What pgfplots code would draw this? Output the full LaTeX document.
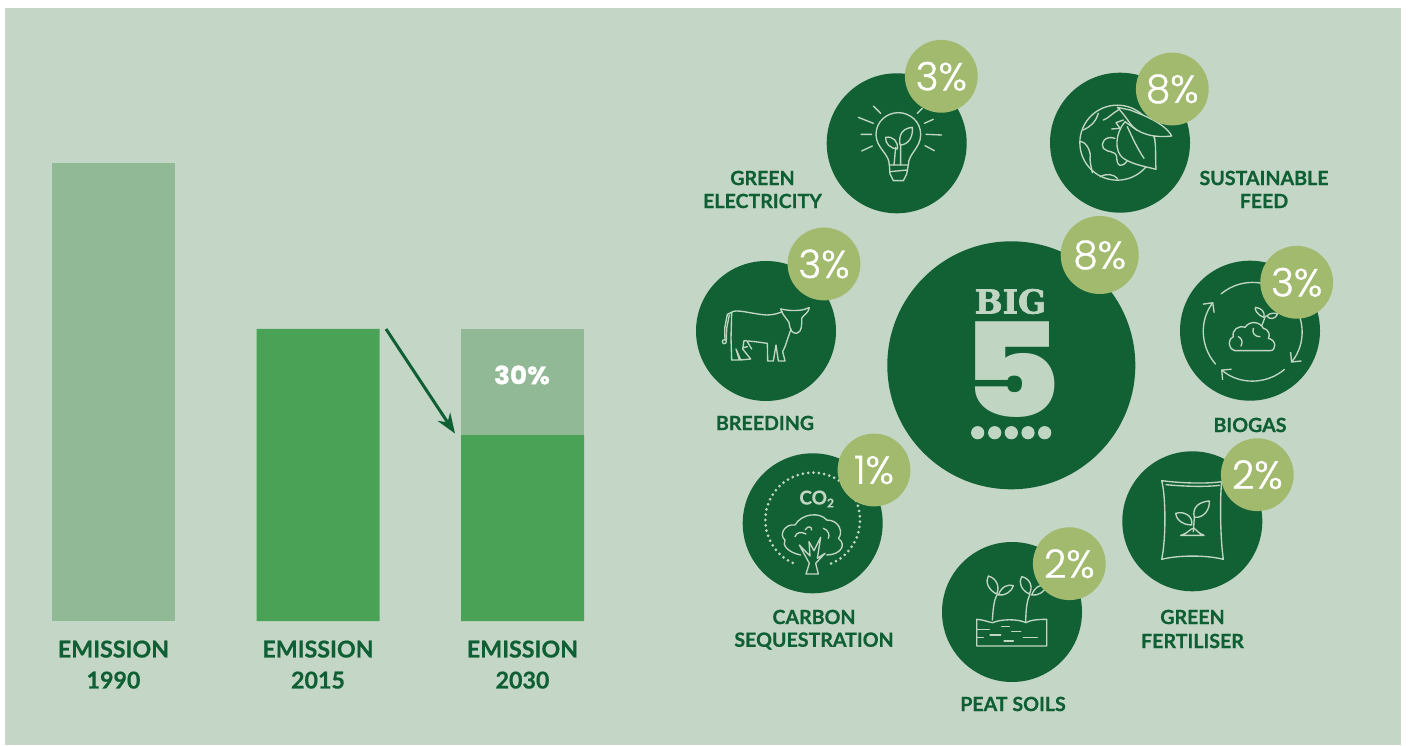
\documentclass[border=0pt]{standalone}
\usepackage{fontspec}
\usepackage{pgfplots}
\pgfplotsset{compat=1.18}
\usetikzlibrary{arrows.meta}
\setmainfont{Lato}[BoldFeatures={FakeBold=0.6}]
\newfontfamily\pop{Poppins Light}[FakeBold=1]
\newfontfamily\popb{Poppins Black}
\newfontfamily\popw{Poppins Bold}[FakeStretch=1.05,FakeBold=1]
\newfontfamily\bigf{DejaVu Serif}[UprightFont=* Bold,FakeBold=2]
\definecolor{bg}{HTML}{C4D6C5}
\definecolor{barlight}{HTML}{92B995}
\definecolor{barmid}{HTML}{4AA257}
\definecolor{dark}{HTML}{126135}
\definecolor{badge}{HTML}{A2BA6E}
\definecolor{txt}{HTML}{0E5F33}
\definecolor{ico}{HTML}{C0D6C3}
\tikzset{
  px/.style={shift={(0pt,745pt)},x=1pt,y=-1pt},
  zoomed/.style 2 args={shift={(#1pt,{(745-#2)*1pt})},x=0.33333pt,y=-0.33333pt},
  icon/.style={draw=ico,line width=1.35pt,line join=round,line cap=round}
}
\newcommand{\lab}[3]{\node[text=txt,font=\bfseries\fontsize{19.6}{22}\selectfont,inner sep=0pt,anchor=center] at (#1,#2) {#3};}
\newcommand{\disc}[3]{\fill[dark] (#1,#2) circle[radius=#3pt];}
\newcommand{\bdg}[4]{\fill[badge] (#1,#2) circle[radius=#3pt];
  \node[text=white,font=\pop\fontsize{39}{39}\selectfont,inner sep=0pt,anchor=center] at (#1,#2) {#4};}
\begin{document}
\begin{tikzpicture}
\fill[white,use as bounding box] (0pt,0pt) rectangle (1408pt,745pt);
\fill[bg] (5pt,0pt) rectangle (1401pt,737pt);
\begin{axis}[
  at={(0pt,124pt)},anchor=south west,scale only axis,
  width=600pt,height=458pt,
  xmin=-0.555,xmax=2.379,ymin=0,ymax=100,clip=false,
  ybar stacked,bar width=123pt,
  axis line style={draw=none},tick style={draw=none},
  ytick=\empty,xtick={0,1,2},
  xticklabels={EMISSION\\1990,EMISSION\\2015,EMISSION\\2030},
  xticklabel style={align=center,text=txt,yshift=-16pt,
    font=\bfseries\fontsize{23.2}{31}\selectfont},
]
\addplot[fill=barlight,draw=none] coordinates {(0,100) (1,0) (2,0)};
\addplot[fill=barmid,draw=none] coordinates {(0,0) (1,63.76) (2,40.6)};
\addplot[fill=barlight,draw=none] coordinates {(0,0) (1,0) (2,23.16)};
\end{axis}
\begin{scope}[px]
\node[text=white,font=\popw\fontsize{25}{25}\selectfont,inner sep=0pt] at (522,375) {30\%};
\draw[draw=txt,line width=3pt,-{Stealth[length=20pt,width=15pt]}] (386,329) -- (455,433.5);
\disc{896.7}{143.3}{70}
\disc{1120}{142.7}{70}
\disc{766}{331}{70}
\disc{812.7}{523.3}{70}
\disc{1250}{330.7}{70}
\disc{1192.3}{521.3}{70}
\disc{1012}{612}{70}
\disc{1011.3}{365.3}{124}
\end{scope}
% bulb
\begin{scope}[zoomed={690}{30}]
\draw[icon] (598,405) .. controls (598,370) and (558,355) .. (558,313) .. controls (558,275) and (590,248) .. (625,248) .. controls (660,248) and (692,275) .. (692,313) .. controls (692,355) and (655,370) .. (655,405) -- cycle;
\draw[icon] (598,405)--(600,432)--(610,452)--(640,452)--(650,432)--(655,405);
\draw[icon] (600,425)--(652,420);
\draw[icon] (612,405)--(617,352) (632,405)--(632,345);
\draw[icon] (630,345) .. controls (625,310) and (640,295) .. (667,292) .. controls (670,320) and (655,345) .. (630,345);
\draw[icon] (622,357) .. controls (600,355) and (585,340) .. (587,322) .. controls (610,318) and (625,335) .. (622,357);
\draw[icon] (550,228)--(572,250) (505,262)--(550,280) (513,313)--(545,313) (515,363)--(547,348) (682,250)--(697,235) (703,280)--(730,268) (708,313)--(755,315) (705,347)--(733,362);
\end{scope}
% globe with leaves
\begin{scope}[zoomed={1040}{30}]
\draw[icon] (232,338) circle[radius=37.5pt];
\draw[icon] (130,300) .. controls (150,290) and (165,280) .. (175,250);
\draw[icon] (122,335) .. controls (140,335) and (155,370) .. (150,385) .. controls (150,400) and (155,415) .. (157,428);
\draw[icon] (190,270) .. controls (205,265) and (210,255) .. (235,240);
\draw[icon] (215,297)--(240,295)--(228,278)--(250,270);
\draw[icon] (225,325) .. controls (195,315) and (180,340) .. (190,355) .. controls (205,370) and (225,360) .. (230,380) .. controls (230,410) and (245,415) .. (262,392);
\draw[icon] (180,440) .. controls (200,430) and (220,432) .. (232,445);
\path[icon,fill=dark] (255,275) .. controls (225,310) and (222,365) .. (250,385) .. controls (280,405) and (320,410) .. (348,418) .. controls (345,370) and (350,340) .. (340,315) -- (290,300) -- cycle;
\path[icon,fill=dark] (232,232) -- (270,240) .. controls (310,255) and (375,280) .. (395,318) .. controls (340,325) and (290,310) .. (270,280) .. controls (260,265) and (245,245) .. (232,232) -- cycle;
\draw[icon] (262,290) .. controls (280,330) and (295,360) .. (312,385);
\end{scope}
% cow
\begin{scope}[zoomed={690}{225}]
\draw[icon] (125,262) .. controls (135,250) and (190,268) .. (230,270) .. controls (250,270) and (265,265) .. (277,260);
\draw[icon] (272,252) .. controls (290,255) and (300,258) .. (325,256) .. controls (340,256) and (350,250) .. (358,248) .. controls (355,265) and (340,270) .. (335,280) .. controls (335,300) and (337,320) .. (320,325) .. controls (305,325) and (300,315) .. (297,292) .. controls (285,275) and (275,265) .. (272,252) -- cycle;
\draw[icon] (303,312)--(285,365)--(278,380)--(285,408)--(265,408)--(258,360)--(250,408)--(233,408)--(232,355)--(195,350)--(162,347)--(158,372)--(182,402)--(152,405)--(138,372)--(148,405)--(125,405)--(123,340)--(125,262);
\draw[icon] (125,262)--(112,268)--(104,310)--(105,345);
\draw[icon] (118,270)--(110,310)--(109,345);
\draw[icon] (103,350) circle[radius=2pt];
\draw[icon] (160,368)--(172,365) (172,350)--(185,372);
\end{scope}
% tree
\begin{scope}[zoomed={730}{430}]
\foreach \a in {-67,-60.5,...,247} {
  \fill[ico] ({248+142*cos(\a)},{270-142*sin(\a)}) circle[radius=1.5pt];
}
\node[text=ico,font=\bfseries\fontsize{19}{19}\selectfont,inner sep=0pt] at (260,207) {CO\raisebox{-3pt}{\fontsize{12}{12}\selectfont 2}};
\draw[icon] (212,375) .. controls (175,368) and (155,345) .. (165,330) .. controls (145,315) and (165,280) .. (195,285) .. controls (215,250) and (270,245) .. (290,270) .. controls (330,270) and (340,310) .. (325,325) .. controls (352,345) and (330,375) .. (290,375);
\draw[icon] (228,432)--(238,400)--(208,345)--(240,378)--(237,335)--(252,362)--(272,322)--(262,385)--(285,370)--(257,400)--(265,432)--cycle;
\draw[icon] (195,320) .. controls (200,305) and (215,305) .. (228,312);
\draw[icon] (225,300) .. controls (235,285) and (245,290) .. (245,300);
\draw[icon] (280,295) .. controls (295,300) and (300,315) .. (295,325);
\end{scope}
% biogas ring
\begin{scope}[shift={(1252.7pt,{(745-331.7)*1pt})},x=1pt,y=1pt]
\tikzset{barb/.style={icon,-{Straight Barb[length=7pt,width=14pt]}}}
\draw[barb] (221:49.3) arc[start angle=221,end angle=143,radius=49.3pt];
\draw[barb] (130:49.3) arc[start angle=130,end angle=-39,radius=49.3pt];
\draw[barb] (-50:49.3) arc[start angle=-50,end angle=-130,radius=49.3pt];
\end{scope}
\begin{scope}[zoomed={1110}{240}]
\draw[icon] (375,332) .. controls (350,325) and (355,295) .. (370,290) .. controls (365,270) and (385,255) .. (405,262) .. controls (420,240) and (450,245) .. (460,265) .. controls (480,270) and (480,290) .. (475,295) .. controls (500,300) and (500,332) .. (480,332) -- cycle;
\draw[icon] (385,290) .. controls (395,295) and (400,305) .. (393,318);
\draw[icon] (430,265) .. controls (425,280) and (435,290) .. (450,290);
\draw[icon] (455,258) .. controls (460,245) and (462,240) .. (466,228);
\draw[icon] (462,232) .. controls (440,225) and (432,205) .. (437,202) .. controls (455,205) and (465,215) .. (462,232);
\draw[icon] (470,228) .. controls (480,218) and (495,218) .. (503,222) .. controls (495,238) and (480,240) .. (470,228);
\end{scope}
% bag and peat
\begin{scope}[zoomed={930}{440}]
\draw[icon] (695,122) .. controls (740,128) and (820,133) .. (875,125) .. controls (870,170) and (870,290) .. (880,358) .. controls (830,345) and (745,345) .. (695,358) .. controls (708,300) and (708,170) .. (695,122) -- cycle;
\draw[icon] (708,134) .. controls (750,138) and (820,142) .. (868,136);
\draw[icon] (790,275)--(793,232);
\draw[icon] (793,232) .. controls (785,200) and (810,185) .. (838,183) .. controls (840,210) and (820,235) .. (793,232);
\draw[icon] (785,255) .. controls (755,255) and (737,235) .. (737,220) .. controls (765,212) and (790,230) .. (785,255);
\draw[icon] (752,286) .. controls (775,280) and (780,265) .. (792,265) .. controls (800,270) and (805,280) .. (822,286) -- cycle;
\draw[icon] (140,538) .. controls (165,540) and (180,548) .. (188,548) .. controls (210,538) and (260,535) .. (288,548) .. controls (300,540) and (325,538) .. (350,538) -- (350,618) -- (140,618) -- cycle;
\draw[icon] (140,568)--(178,568) (215,560)--(238,560) (245,575)--(272,575) (180,585)--(212,585) (140,592)--(160,592) (280,592)--(322,592) (222,603)--(250,603);
\draw[icon] (187,540) .. controls (190,500) and (192,480) .. (202,462);
\draw[icon] (200,462) .. controls (175,450) and (165,425) .. (175,408) .. controls (200,415) and (210,440) .. (200,462);
\draw[icon] (205,465) .. controls (215,438) and (235,432) .. (250,437) .. controls (245,455) and (225,468) .. (205,465);
\draw[icon] (287,545) .. controls (288,500) and (292,480) .. (300,462);
\draw[icon] (298,462) .. controls (272,450) and (265,425) .. (275,410) .. controls (300,415) and (310,440) .. (298,462);
\draw[icon] (305,465) .. controls (315,438) and (335,432) .. (350,437) .. controls (345,455) and (325,468) .. (305,465);
\end{scope}
\begin{scope}[px]
\bdg{941.3}{76.3}{36.4}{3\%}
\bdg{1172.3}{89}{36.4}{8\%}
\bdg{824}{264}{36.4}{3\%}
\bdg{874}{470}{36.4}{1\%}
\bdg{1296.7}{282.3}{36.4}{3\%}
\bdg{1257.3}{474.7}{36.4}{2\%}
\bdg{1069.3}{563.7}{36.4}{2\%}
\bdg{1099.7}{255}{39}{8\%}
\node[text=ico,font=\bigf\fontsize{33}{33}\selectfont,inner sep=0pt] at (1010.5,301.5) {BIG};
\node[text=ico,font=\popb\fontsize{131}{131}\selectfont,inner sep=0pt,xscale=1.15] at (1011.5,370) {5};
\foreach \x in {293,344,394,444,494} {\fill[ico] ({880+\x/3},432.7) circle[radius=6.6pt];}
\lab{762.5}{178}{GREEN}
\lab{762.5}{201}{ELECTRICITY}
\lab{1264}{178}{SUSTAINABLE}
\lab{1264}{201}{FEED}
\lab{765}{423}{BREEDING}
\lab{1250}{425}{BIOGAS}
\lab{814}{617}{CARBON}
\lab{814}{641}{SEQUESTRATION}
\lab{1192.5}{617}{GREEN}
\lab{1192.5}{641}{FERTILISER}
\lab{1013}{704}{PEAT SOILS}
\end{scope}
\end{tikzpicture}
\end{document}
